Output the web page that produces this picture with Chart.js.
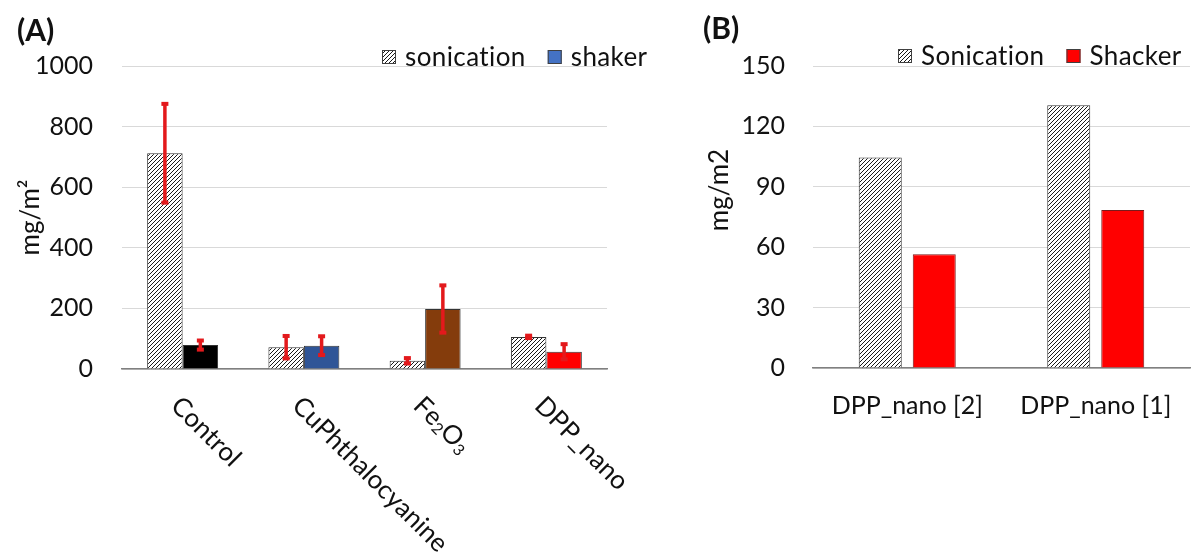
<!DOCTYPE html>
<html>
<head>
<meta charset="utf-8">
<script src="https://cdn.jsdelivr.net/npm/chart.js@4.4.1/dist/chart.umd.min.js"></script>
<style>
    html, body { margin: 0; padding: 0; background: #fff; }
    #wrapA { position: absolute; left: 0; top: 0; width: 690px; height: 555px; }
    #wrapB { position: absolute; left: 690px; top: 0; width: 502px; height: 555px; }
</style>
</head>
<body>
<div id="wrapA"><canvas id="chartA"></canvas></div>
<div id="wrapB"><canvas id="chartB"></canvas></div>
<script>
// panel A data
const categoriesA = ["Control", "CuPhthalocyanine", "Fe₂O₃", "DPP_nano"];
const seriesNamesA = ["sonication", "shaker"];
const sonicationA = [712, 72, 27, 106];
const sonicationErrA = [163, 37, 9, 4];
const shakerA = [79, 77, 198, 57];
const shakerErrA = [15, 31, 78, 25];
const shakerColorsA = ["#000000", "#2F5597", "#843C0C", "#FF0000"];
const ticksA = [0, 200, 400, 600, 800, 1000];

// panel B data
const categoriesB = ["DPP_nano [2]", "DPP_nano [1]"];
const seriesNamesB = ["Sonication", "Shacker"];
const sonicationB = [104.5, 130.5];
const shakerB = [56.5, 78.5];
const ticksB = [0, 30, 60, 90, 120, 150];

const FONT = "Lato, 'Open Sans', sans-serif";
const TEXT = "#111111";
const GRID = "#d9d9d9";
const SUBS = { "₂": "2", "₃": "3" };

function makeHatch() {
    let c = document.createElement("canvas");
    c.width = 4;
    c.height = 4;
    let g = c.getContext("2d");
    g.fillStyle = "#ffffff";
    g.fillRect(0, 0, 4, 4);
    g.strokeStyle = "#1a1a1a";
    g.lineWidth = 1;
    g.beginPath();
    g.moveTo(0, 4); g.lineTo(4, 0);
    g.moveTo(-1, 1); g.lineTo(1, -1);
    g.moveTo(3, 5); g.lineTo(5, 3);
    g.stroke();
    return g.createPattern(c, "repeat");
}
const hatch = makeHatch();

// red error bars with small square caps
const errorBars = {
    id: "errorBars",
    afterDatasetsDraw(chart, args, opts) {
        if (!opts.errors) return;
        let ctx = chart.ctx;
        let y = chart.scales.y;
        ctx.save();
        ctx.strokeStyle = "#E3191C";
        ctx.fillStyle = "#E3191C";
        ctx.lineWidth = 3.5;
        opts.errors.forEach(function(errs, di) {
            let meta = chart.getDatasetMeta(di);
            meta.data.forEach(function(bar, i) {
                let v = chart.data.datasets[di].data[i];
                let yt = y.getPixelForValue(v + errs[i]);
                let yb = y.getPixelForValue(Math.max(v - errs[i], 0));
                ctx.beginPath();
                ctx.moveTo(bar.x, yt);
                ctx.lineTo(bar.x, yb);
                ctx.stroke();
                ctx.fillRect(bar.x - 3.5, yt - 2, 7, 4);
                ctx.fillRect(bar.x - 3.5, yb - 2, 7, 4);
            });
        });
        ctx.restore();
    }
};

// writes a label, drawing subscript digits smaller and lower
function drawRich(ctx, text, size) {
    let x = 0;
    for (let ch of text) {
        if (SUBS[ch]) {
            ctx.font = Math.round(size * 0.62) + "px " + FONT;
            ctx.fillText(SUBS[ch], x, size * 0.42);
            x += ctx.measureText(SUBS[ch]).width;
        } else {
            ctx.font = size + "px " + FONT;
            ctx.fillText(ch, x, 0);
            x += ctx.measureText(ch).width;
        }
    }
}

// texts drawn on top: legend, panel tag, slanted labels, side title
const extras = {
    id: "extras",
    afterDraw(chart, args, opts) {
        let ctx = chart.ctx;
        ctx.save();
        ctx.fillStyle = TEXT;
        ctx.textBaseline = "middle";
        ctx.textAlign = "left";

        // panel tag
        ctx.font = "bold 30px " + FONT;
        ctx.fillText(opts.tag.text, opts.tag.x, opts.tag.y);

        // legend (small letter spacing keeps "ti" from joining)
        ctx.font = opts.legend.size + "px " + FONT;
        ctx.letterSpacing = "0.4px";
        let lx = opts.legend.x;
        let ly = opts.legend.y;
        opts.legend.items.forEach(function(it) {
            ctx.fillStyle = it.fill;
            ctx.fillRect(lx, ly - 7, 14, 14);
            ctx.strokeStyle = "#404040";
            ctx.lineWidth = 1;
            ctx.strokeRect(lx + 0.5, ly - 6.5, 13, 13);
            ctx.fillStyle = TEXT;
            ctx.fillText(it.label, lx + 23, ly + 1);
            lx += 23 + ctx.measureText(it.label).width + 22;
        });
        ctx.letterSpacing = "0px";

        // slanted category labels
        if (opts.slanted) {
            let x = chart.scales.x;
            ctx.textBaseline = "top";
            opts.slanted.forEach(function(lab, i) {
                ctx.save();
                ctx.translate(x.getPixelForValue(i) + 2, chart.chartArea.bottom + 23);
                ctx.rotate(Math.PI / 4);
                drawRich(ctx, lab, 26);
                ctx.restore();
            });
        }

        // side title
        if (opts.sideTitle) {
            ctx.font = "26px " + FONT;
            ctx.textAlign = "center";
            ctx.textBaseline = "middle";
            ctx.translate(opts.sideTitle.x, opts.sideTitle.y);
            ctx.rotate(-Math.PI / 2);
            ctx.fillText(opts.sideTitle.text, 0, 0);
        }
        ctx.restore();
    }
};

Chart.register(errorBars, extras);

let chartA = new Chart(document.getElementById("chartA").getContext("2d"), {
    type: "bar",
    data: {
        labels: categoriesA,
        datasets: [
            {
                label: seriesNamesA[0],
                data: sonicationA,
                backgroundColor: hatch,
                borderColor: "#333333",
                borderWidth: 1
            },
            {
                label: seriesNamesA[1],
                data: shakerA,
                backgroundColor: shakerColorsA,
                borderColor: "#333333",
                borderWidth: 1
            }
        ]
    },
    options: {
        responsive: true,
        maintainAspectRatio: false,
        animation: false,
        layout: { padding: { top: 66, right: 83, left: 0, bottom: 0 } },
        datasets: { bar: { categoryPercentage: 0.585, barPercentage: 1.0 } },
        plugins: {
            legend: { display: false },
            tooltip: { enabled: false },
            errorBars: { errors: [sonicationErrA, shakerErrA] },
            extras: {
                tag: { text: "(A)", x: 17, y: 31 },
                legend: {
                    x: 382, y: 57, size: 26,
                    items: [
                        { label: seriesNamesA[0], fill: hatch },
                        { label: seriesNamesA[1], fill: "#4472C4" }
                    ]
                },
                slanted: categoriesA
            }
        },
        scales: {
            x: {
                grid: { display: false },
                border: { display: true, color: "#808080", width: 1.5 },
                ticks: { display: false },
                afterFit: function(s) { s.height = 186; }
            },
            y: {
                min: 0,
                max: 1000,
                afterBuildTicks: function(s) { s.ticks = ticksA.map(v => ({ value: v })); },
                afterFit: function(s) { s.width = 122; },
                grid: { color: GRID, lineWidth: 1, drawTicks: false },
                border: { display: false },
                ticks: {
                    padding: 29,
                    color: TEXT,
                    font: { family: FONT, size: 25 },
                    callback: function(v) { return String(v); }
                },
                title: {
                    display: true,
                    text: "mg/m²",
                    color: TEXT,
                    font: { family: FONT, size: 26 },
                    padding: { top: 15, bottom: 0 }
                }
            }
        }
    }
});

let chartB = new Chart(document.getElementById("chartB").getContext("2d"), {
    type: "bar",
    data: {
        labels: categoriesB,
        datasets: [
            {
                label: seriesNamesB[0],
                data: sonicationB,
                backgroundColor: hatch,
                borderColor: "#333333",
                borderWidth: 1
            },
            {
                label: seriesNamesB[1],
                data: shakerB,
                backgroundColor: "#FF0000",
                borderColor: "#7a1a1a",
                borderWidth: 1
            }
        ]
    },
    options: {
        responsive: true,
        maintainAspectRatio: false,
        animation: false,
        layout: { padding: { top: 66, right: 2, left: 0, bottom: 0 } },
        datasets: { bar: { categoryPercentage: 0.573, barPercentage: 0.796 } },
        plugins: {
            legend: { display: false },
            tooltip: { enabled: false },
            extras: {
                tag: { text: "(B)", x: 13, y: 29 },
                legend: {
                    x: 208, y: 56, size: 26,
                    items: [
                        { label: seriesNamesB[0], fill: hatch },
                        { label: seriesNamesB[1], fill: "#FF0000" }
                    ]
                },
                sideTitle: { text: "mg/m2", x: 30, y: 190 }
            }
        },
        scales: {
            x: {
                grid: { display: false },
                border: { display: true, color: "#808080", width: 1.5 },
                ticks: { padding: 15, color: TEXT, maxRotation: 0, font: { family: FONT, size: 25 } },
                afterFit: function(s) { s.height = 187; }
            },
            y: {
                min: 0,
                max: 150,
                afterBuildTicks: function(s) { s.ticks = ticksB.map(v => ({ value: v })); },
                afterFit: function(s) { s.width = 123; },
                grid: { color: GRID, lineWidth: 1, drawTicks: false },
                border: { display: false },
                ticks: { padding: 28, color: TEXT, font: { family: FONT, size: 25 } }
            }
        }
    }
});
</script>
</body>
</html>
